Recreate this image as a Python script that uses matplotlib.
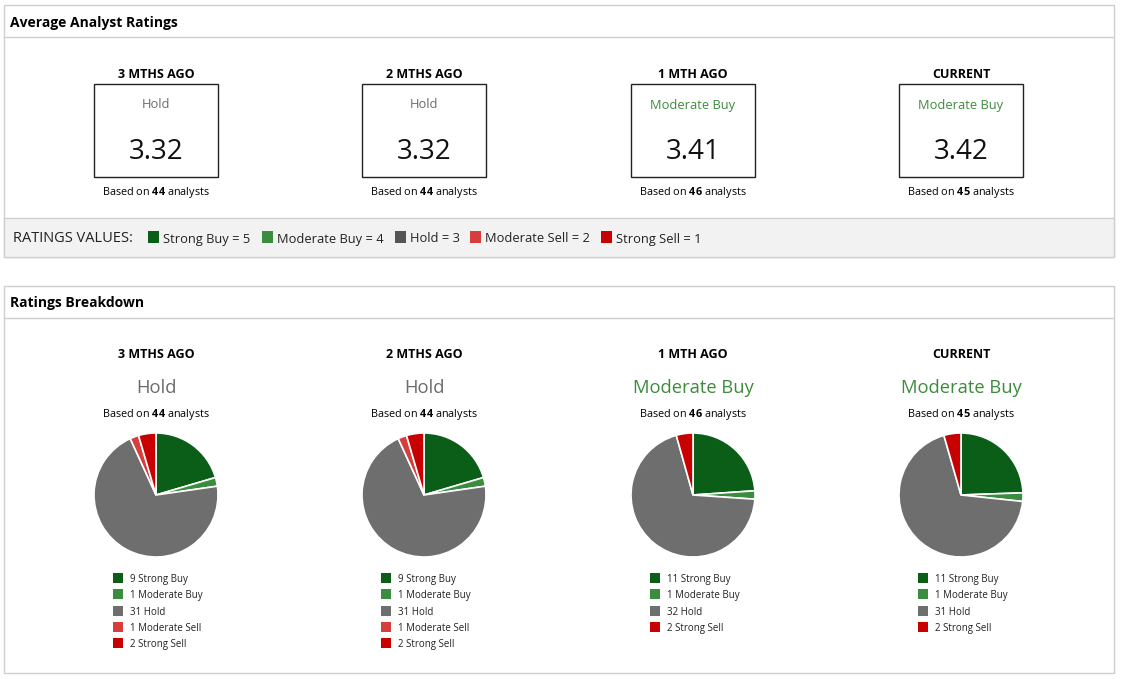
import matplotlib
matplotlib.use("Agg")
import matplotlib.pyplot as plt
from matplotlib.patches import Rectangle

plt.rcParams['font.family'] = ['Open Sans', 'DejaVu Sans']
plt.rcParams['mathtext.fontset'] = 'custom'
plt.rcParams['mathtext.rm'] = 'Open Sans'
plt.rcParams['mathtext.bf'] = 'Open Sans:bold'

W, H = 1123, 679

periods = ["3 MTHS AGO", "2 MTHS AGO", "1 MTH AGO", "CURRENT"]
avg_scores = [3.32, 3.32, 3.41, 3.42]
consensus = ["Hold", "Hold", "Moderate Buy", "Moderate Buy"]
analysts = [44, 44, 46, 45]

categories = ["Strong Buy", "Moderate Buy", "Hold", "Moderate Sell", "Strong Sell"]
cat_values = [5, 4, 3, 2, 1]
strong_buy = [9, 9, 11, 11]
moderate_buy = [1, 1, 1, 1]
hold = [31, 31, 32, 31]
moderate_sell = [1, 1, 0, 0]
strong_sell = [2, 2, 2, 2]

cat_colors = ["#0b5e17", "#3a8c3f", "#6e6e6e", "#d63d3d", "#c80000"]
key_colors = ["#0b5e17", "#3a8c3f", "#555555", "#d63d3d", "#c80000"]
label_colors = {"Hold": "#6b6b6b", "Moderate Buy": "#3d8b3d"}
border = "#cfcfcf"

col_x = [156, 424, 693, 961]
dy = 2  # text baseline nudge

fig = plt.figure(figsize=(W / 100, H / 100), dpi=100)
ax = fig.add_axes([0, 0, 1, 1])
ax.set_xlim(0, W)
ax.set_ylim(H, 0)
ax.axis("off")

# ---- panel 1: average ratings ----
ax.add_patch(Rectangle((4, 5), 1110, 252, fill=False, ec=border, lw=1))
ax.plot([4, 1114], [37, 37], color=border, lw=1)
ax.text(10, 21 + dy, "Average Analyst Ratings", fontsize=10, fontweight="bold", va="center")
ax.add_patch(Rectangle((4, 218), 1110, 39, fc="#f2f2f2", ec=border, lw=1))

for i, cx in enumerate(col_x):
    ax.text(cx, 73 + dy, periods[i], fontsize=9, fontweight="bold", ha="center", va="center")
    ax.add_patch(Rectangle((cx - 62, 84), 124, 93, fill=False, ec="#222222", lw=1))
    ax.text(cx, 103 + dy, consensus[i], fontsize=9.3, ha="center", va="center",
            color=label_colors[consensus[i]])
    ax.text(cx, 150 + dy, f"{avg_scores[i]:.2f}", fontsize=20, ha="center", va="center",
            color="#111111")
    ax.text(cx, 190 + dy, r"Based on $\mathbf{%d}$ analysts" % analysts[i], fontsize=7.8,
            ha="center", va="center")

ax.text(13, 237 + dy, "RATINGS VALUES:", fontsize=10.5, va="center", color="#222222")
leg_x = [148, 262, 395, 470, 601]
for j, name in enumerate(categories):
    ax.add_patch(Rectangle((leg_x[j], 231), 11, 12, fc=key_colors[j], ec="none"))
    ax.text(leg_x[j] + 15, 237 + dy, f"{name} = {cat_values[j]}", fontsize=9.3,
            va="center", color="#222222")

# ---- panel 2: breakdown ----
ax.add_patch(Rectangle((4, 286), 1110, 387, fill=False, ec=border, lw=1))
ax.plot([4, 1114], [318, 318], color=border, lw=1)
ax.text(10, 301 + dy, "Ratings Breakdown", fontsize=10, fontweight="bold", va="center")

counts = list(zip(strong_buy, moderate_buy, hold, moderate_sell, strong_sell))
r, cy = 62, 495
for i, cx in enumerate(col_x):
    ax.text(cx, 353 + dy, periods[i], fontsize=9, fontweight="bold", ha="center", va="center")
    ax.text(cx, 386 + dy, consensus[i], fontsize=13.2, ha="center", va="center",
            color=label_colors[consensus[i]])
    ax.text(cx, 412 + dy, r"Based on $\mathbf{%d}$ analysts" % analysts[i], fontsize=7.8,
            ha="center", va="center")

    pax = fig.add_axes([(cx - r) / W, 1 - (cy + r) / H, 2 * r / W, 2 * r / H])
    vals = [v for v in counts[i] if v > 0]
    cols = [c for v, c in zip(counts[i], cat_colors) if v > 0]
    pax.pie(vals, colors=cols, startangle=90, counterclock=False, radius=1,
            wedgeprops=dict(edgecolor="white", linewidth=1.2))
    pax.set_xlim(-1.0, 1.0)
    pax.set_ylim(-1.0, 1.0)
    pax.set_aspect("equal")
    pax.axis("off")

    row = 0
    for j, name in enumerate(categories):
        if counts[i][j] == 0:
            continue
        y = 578 + row * 16.3
        ax.add_patch(Rectangle((cx - 43, y - 5), 10, 10, fc=cat_colors[j], ec="none"))
        ax.text(cx - 26, y + 1.5, f"{counts[i][j]} {name}", fontsize=7, va="center",
                color="#222222")
        row += 1

fig.savefig("out.png", dpi=100)
